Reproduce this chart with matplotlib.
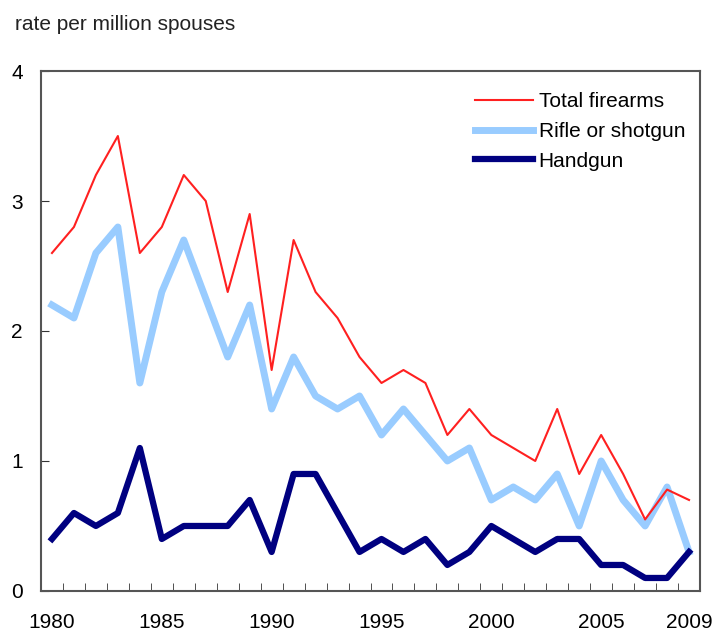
import matplotlib.pyplot as plt
import numpy as np

plt.rcParams['font.family'] = ['Liberation Sans', 'DejaVu Sans']

years = np.arange(1980, 2010)
total = [2.6, 2.8, 3.2, 3.5, 2.6, 2.8, 3.2, 3.0, 2.3, 2.9,
         1.7, 2.7, 2.3, 2.1, 1.8, 1.6, 1.7, 1.6, 1.2, 1.4,
         1.2, 1.1, 1.0, 1.4, 0.9, 1.2, 0.9, 0.55, 0.78, 0.7]
rifle = [2.2, 2.1, 2.6, 2.8, 1.6, 2.3, 2.7, 2.25, 1.8, 2.2,
         1.4, 1.8, 1.5, 1.4, 1.5, 1.2, 1.4, 1.2, 1.0, 1.1,
         0.7, 0.8, 0.7, 0.9, 0.5, 1.0, 0.7, 0.5, 0.8, 0.3]
handgun = [0.4, 0.6, 0.5, 0.6, 1.1, 0.4, 0.5, 0.5, 0.5, 0.7,
           0.3, 0.9, 0.9, 0.6, 0.3, 0.4, 0.3, 0.4, 0.2, 0.3,
           0.5, 0.4, 0.3, 0.4, 0.4, 0.2, 0.2, 0.1, 0.1, 0.3]
year_labels = [1980, 1985, 1990, 1995, 2000, 2005, 2009]

fig = plt.figure(figsize=(7.19, 6.33), dpi=100)
ax = fig.add_axes([0.057, 0.0664, 0.9166, 0.8214])

ax.plot(years, total, color='#ff2020', lw=1.5, label='Total firearms', zorder=3)
ax.plot(years, rifle, color='#99ccff', lw=5, label='Rifle or shotgun', zorder=2)
ax.plot(years, handgun, color='#000080', lw=4.5, label='Handgun', zorder=2)

ax.set_xlim(1979.5, 2009.5)
ax.set_ylim(0, 4)
ax.set_yticks([0, 1, 2, 3, 4])
ax.set_xticks(year_labels)
ax.set_xticks(np.arange(1980.5, 2009, 1), minor=True)
ax.tick_params(axis='x', which='major', length=0, pad=16, labelsize=15)
ax.tick_params(axis='x', which='minor', direction='in', length=6, color='#333333')
ax.tick_params(axis='y', direction='in', length=6, pad=13, labelsize=15, color='#333333')
for s in ax.spines.values():
    s.set_color('#555555')
    s.set_linewidth(1.5)

fig.text(15/719, 1 - 25/633, 'rate per million spouses', fontsize=15,
         va='center', ha='left', color='#222222')

ax.legend(loc='upper left', bbox_to_anchor=(475/719, 1 - 92/633),
          bbox_transform=fig.transFigure, frameon=False, fontsize=15,
          handlelength=2.8, handletextpad=0.25, labelspacing=0.52,
          borderpad=0, borderaxespad=0)

fig.savefig('out.png', dpi=100)
